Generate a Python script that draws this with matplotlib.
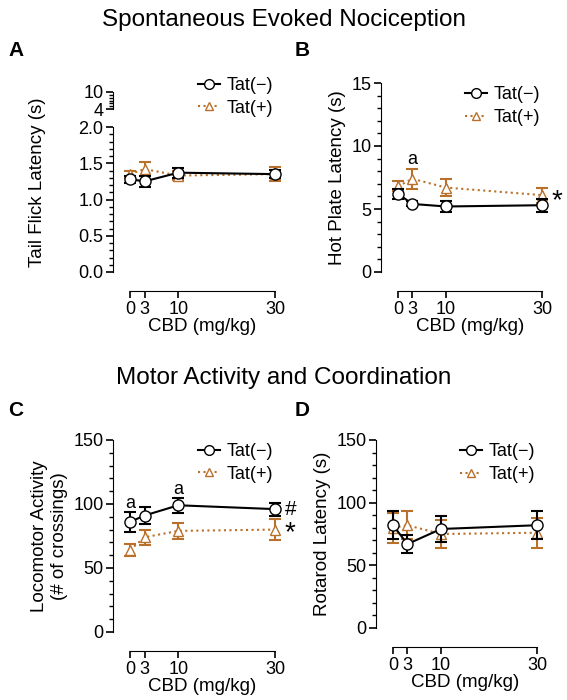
import matplotlib
matplotlib.use('Agg')
import matplotlib.pyplot as plt
from matplotlib.ticker import MultipleLocator
from matplotlib.lines import Line2D

plt.rcParams['font.family'] = ['Liberation Sans', 'DejaVu Sans']

doses = [0, 3, 10, 30]
xticklabels = ['0', '3', '10', '30']

tf_neg = [1.28, 1.25, 1.37, 1.35]
tf_neg_err = [0.05, 0.08, 0.07, 0.06]
tf_pos = [1.35, 1.42, 1.33, 1.35]
tf_pos_err = [0.05, 0.10, 0.06, 0.10]

hp_neg = [6.2, 5.4, 5.2, 5.3]
hp_neg_err = [0.4, 0.2, 0.4, 0.5]
hp_pos = [6.8, 7.4, 6.7, 6.1]
hp_pos_err = [0.4, 0.8, 0.7, 0.6]

loco_neg = [86, 91, 99, 96]
loco_neg_err = [8, 7, 6, 5]
loco_pos = [64, 74, 79, 80]
loco_pos_err = [5, 6, 6, 8]

rr_neg = [82, 67, 79, 82]
rr_neg_err = [11, 7, 10, 11]
rr_pos = [80, 82, 75, 76]
rr_pos_err = [12, 11, 11, 12]

BROWN = '#b8702a'
W, H = 567, 700

leg_handles = [
    Line2D([], [], color='black', ls='-', lw=1.5, marker='o', mfc='white', mec='black', ms=7),
    Line2D([], [], color=BROWN, ls=':', lw=1.5, marker='^', mfc='white', mec=BROWN, ms=6),
]
leg_labels = ['Tat(−)', 'Tat(+)']


def axes_px(left, top, right, bottom):
    return fig.add_axes([left / W, 1 - bottom / H, (right - left) / W, (bottom - top) / H])


def style(ax, ymax, major, minor, ylabel):
    ax.set_xlim(0, 30)
    ax.set_ylim(0, ymax)
    ax.yaxis.set_major_locator(MultipleLocator(major))
    ax.yaxis.set_minor_locator(MultipleLocator(minor))
    ax.set_xticks(doses)
    ax.set_xticklabels(xticklabels)
    for s in ['top', 'right']:
        ax.spines[s].set_visible(False)
    ax.spines['left'].set_position(('outward', 12))
    ax.spines['bottom'].set_position(('outward', 14))
    ax.tick_params(labelsize=13, width=1.2, length=5, pad=2)
    ax.tick_params(which='minor', length=3, width=1)
    ax.set_ylabel(ylabel, fontsize=13.5)
    ax.set_xlabel('CBD (mg/kg)', fontsize=13.5, labelpad=0)


def legend(ax, anchor=(1.04, 1.02)):
    ax.legend(leg_handles, leg_labels, loc='upper right', frameon=False, fontsize=13,
              handlelength=1.2, handletextpad=0.4, borderaxespad=0.0, labelspacing=0.3,
              bbox_to_anchor=anchor)


def draw(ax, neg, neg_err, pos, pos_err):
    ax.errorbar(doses, pos, yerr=pos_err, color=BROWN, ls=':', lw=1.5, marker='^',
                mfc='white', mec=BROWN, ms=7, capsize=4, elinewidth=1.5, capthick=1.5,
                clip_on=False, zorder=2)
    ax.errorbar(doses, neg, yerr=neg_err, color='black', ls='-', lw=1.5, marker='o',
                mfc='white', mec='black', ms=8, capsize=4, elinewidth=1.5, capthick=1.5,
                clip_on=False, zorder=3)


fig = plt.figure(figsize=(W / 100, H / 100), dpi=100)

# A: tail flick with broken axis
axA = axes_px(130, 127, 275, 272)
style(axA, 2.0, 0.5, 0.1, 'Tail Flick Latency (s)')
draw(axA, tf_neg, tf_neg_err, tf_pos, tf_pos_err)
axA.yaxis.set_label_coords(-0.58, 0.62)
axA2 = axes_px(130, 92, 275, 109)
axA2.set_ylim(4, 10)
axA2.set_yticks([4, 10])
axA2.yaxis.set_minor_locator(MultipleLocator(1))
axA2.set_xticks([])
for s in ['top', 'right', 'bottom']:
    axA2.spines[s].set_visible(False)
axA2.spines['left'].set_position(('outward', 12))
axA2.tick_params(labelsize=13, width=1.2, length=5, pad=2)
axA2.tick_params(which='minor', length=3, width=1)
axA2.patch.set_alpha(0)
legend(axA2, (1.04, 2.3))

# B: hot plate
axB = axes_px(398, 83, 542, 272)
style(axB, 15, 5, 1, 'Hot Plate Latency (s)')
draw(axB, hp_neg, hp_neg_err, hp_pos, hp_pos_err)
legend(axB)
axB.text(3, 8.6, 'a', ha='center', fontsize=13)
axB.text(32, 5.6, '*', ha='left', va='center', fontsize=20, clip_on=False)

# C: locomotor
axC = axes_px(130, 440, 275, 632)
style(axC, 150, 50, 10, 'Locomotor Activity\n(# of crossings)')
draw(axC, loco_neg, loco_neg_err, loco_pos, loco_pos_err)
legend(axC)
axC.text(0, 97, 'a', ha='center', fontsize=13)
axC.text(10, 108, 'a', ha='center', fontsize=13)
axC.text(32, 96, '#', ha='left', va='center', fontsize=15, clip_on=False)
axC.text(32, 77, '*', ha='left', va='center', fontsize=20, clip_on=False)

# D: rotarod
axD = axes_px(393, 440, 537, 628)
style(axD, 150, 50, 10, 'Rotarod Latency (s)')
draw(axD, rr_neg, rr_neg_err, rr_pos, rr_pos_err)
legend(axD)

fig.text(0.5, 0.972, 'Spontaneous Evoked Nociception', ha='center', va='center', fontsize=17.5)
fig.text(0.5, 0.46, 'Motor Activity and Coordination', ha='center', va='center', fontsize=17.5)
for lab, x, y in [('A', 8, 50), ('B', 295, 50), ('C', 8, 410), ('D', 295, 410)]:
    fig.text(x / W, 1 - y / H, lab, fontsize=15, fontweight='bold', va='center')

fig.savefig('out.png', dpi=100)
